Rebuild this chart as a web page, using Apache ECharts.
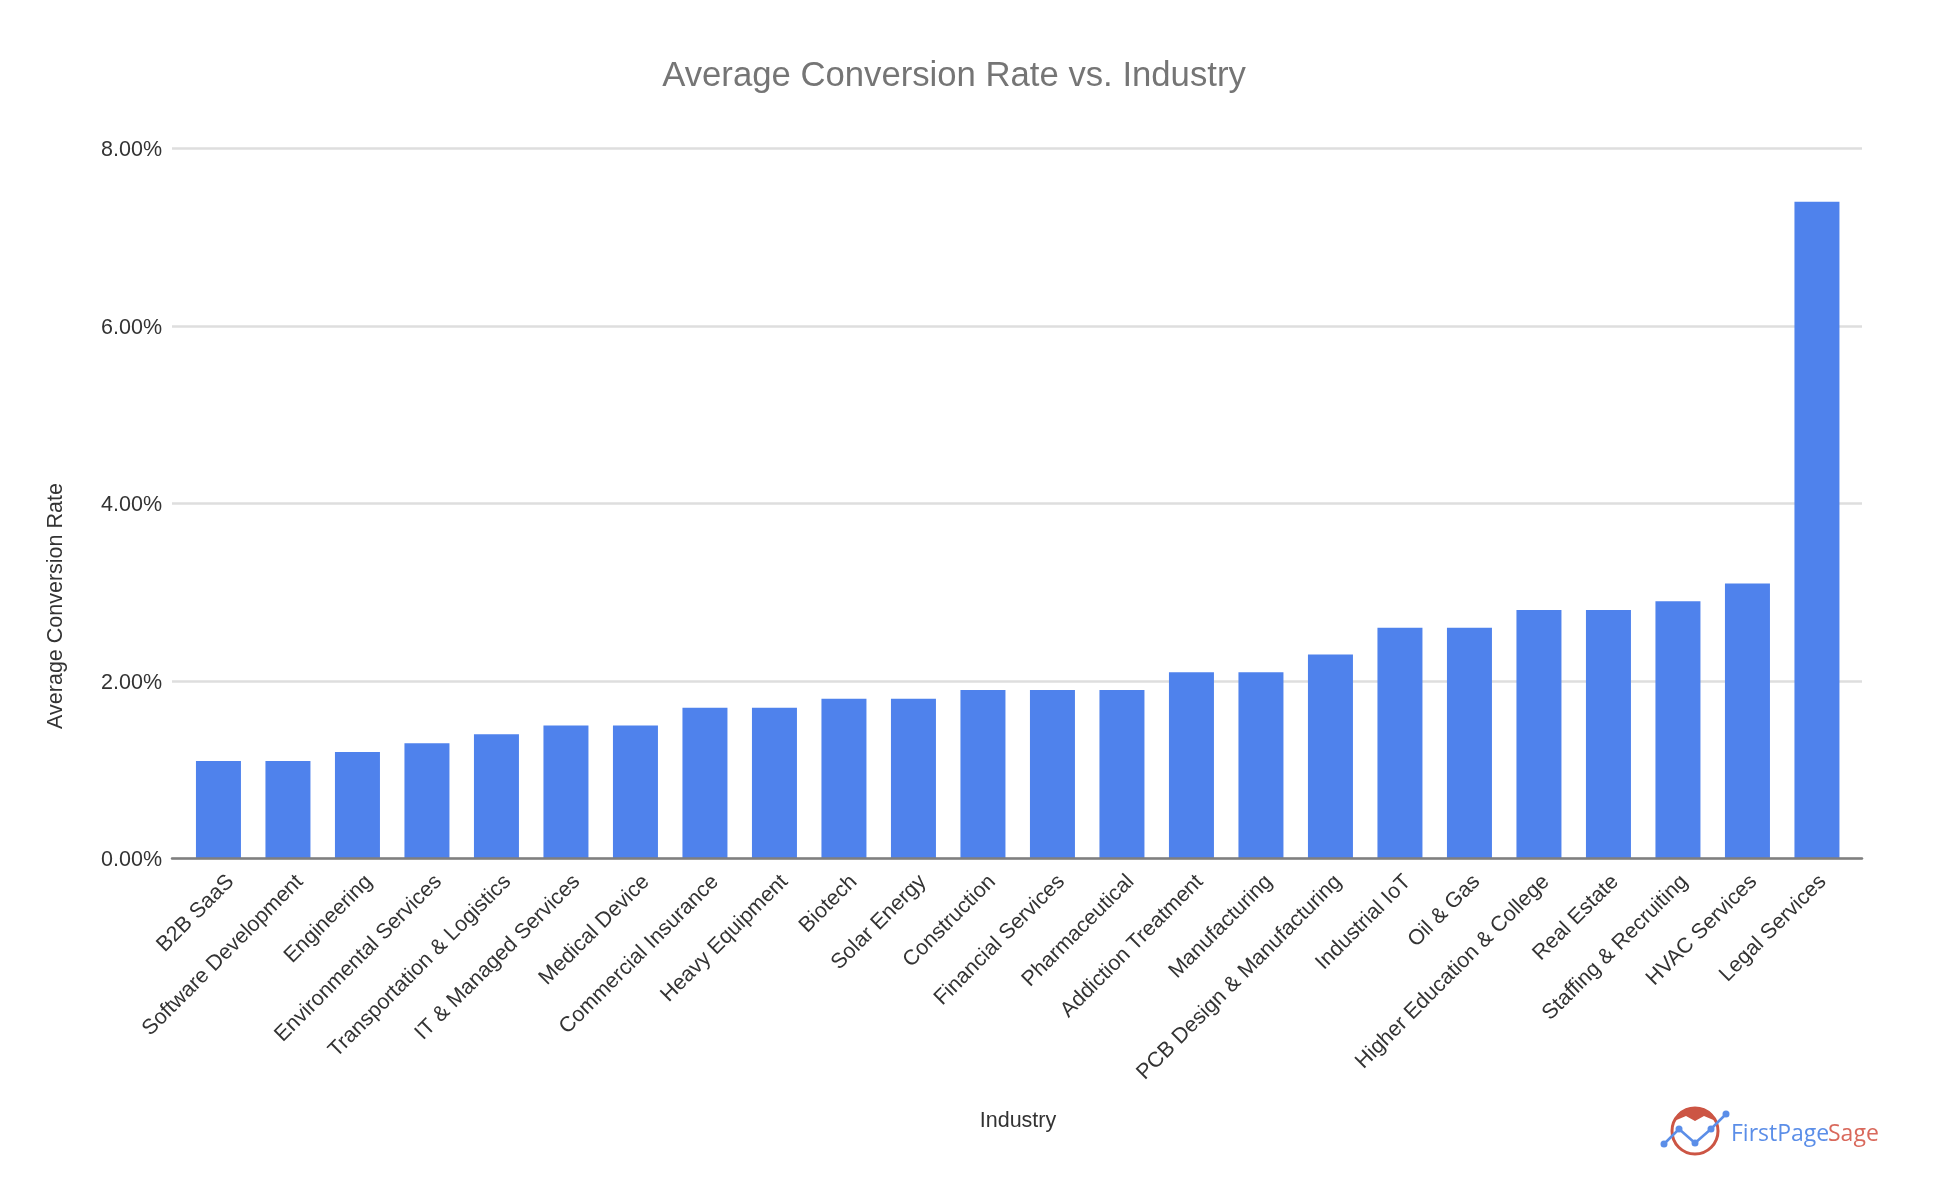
<!DOCTYPE html>
<html><head><meta charset="utf-8">
<style>html,body{margin:0;padding:0;background:#fff}#c{width:1956px;height:1198px;filter:blur(0.5px)}</style>
<script src="https://cdn.jsdelivr.net/npm/echarts@6/dist/echarts.min.js"></script>
</head><body><div id="c"></div>
<script>
const categories = ["B2B SaaS","Software Development","Engineering","Environmental Services","Transportation & Logistics","IT & Managed Services","Medical Device","Commercial Insurance","Heavy Equipment","Biotech","Solar Energy","Construction","Financial Services","Pharmaceutical","Addiction Treatment","Manufacturing","PCB Design & Manufacturing","Industrial IoT","Oil & Gas","Higher Education & College","Real Estate","Staffing & Recruiting","HVAC Services","Legal Services"];
const conversionRate = [1.1,1.1,1.2,1.3,1.4,1.5,1.5,1.7,1.7,1.8,1.8,1.9,1.9,1.9,2.1,2.1,2.3,2.6,2.6,2.8,2.8,2.9,3.1,7.4];
const yTicks = [0,2,4,6,8];
const font = '"Liberation Sans", Arial, sans-serif';
const chart = echarts.init(document.getElementById('c'), null, {renderer:'canvas'});
const txt = '#333333';
const capPts = [[18,18.5],[23,11],[31,6],[40,4],[49,6],[57,11],[62,18.5],[49,13],[40,18],[31,13]];
chart.setOption({
  animation:false,
  backgroundColor:'#ffffff',
  title:[
    {text:'Average Conversion Rate vs. Industry',left:949,top:71.5,textAlign:'center',textVerticalAlign:'middle',
     textStyle:{fontFamily:font,fontSize:34.7,fontWeight:'normal',color:'#757575'}},
    {text:'Industry',left:1013,top:1116,textAlign:'center',textVerticalAlign:'middle',
     textStyle:{fontFamily:font,fontSize:21.5,fontWeight:'normal',color:txt}}
  ],
  grid:[
    {left:172,width:1690,top:148.5,height:710,outerBoundsMode:'none'},
    {left:183.7,width:1668,top:148.5,height:710,outerBoundsMode:'none'},
    {left:184,width:1661.5,top:148.5,height:710,outerBoundsMode:'none'}
  ],
  xAxis:[
    {type:'category',gridIndex:0,data:[''],axisTick:{show:false},axisLabel:{show:false},
     axisLine:{lineStyle:{color:'#7f7f7f',width:2.5}},z:5},
    {type:'category',gridIndex:1,data:categories,axisTick:{show:false},axisLine:{show:false},axisLabel:{show:false}},
    {type:'category',gridIndex:2,data:categories,axisTick:{show:false},axisLine:{show:false},
     axisLabel:{interval:0,rotate:45,margin:8,lineHeight:34,verticalAlign:'top',align:'right',
       fontFamily:font,fontSize:21.5,color:txt}}
  ],
  yAxis:[
    {type:'value',gridIndex:0,min:0,max:8,interval:2,
     axisLabel:{margin:10,verticalAlign:'top',lineHeight:4,fontFamily:font,fontSize:21.5,color:txt,
       formatter:v=>yTicks.includes(v)?v.toFixed(2)+'%':''},
     axisLine:{show:false},axisTick:{show:false},
     splitLine:{lineStyle:{color:'#dedede',width:2.5}}},
    {type:'value',gridIndex:1,min:0,max:8,interval:2,show:false},
    {type:'value',gridIndex:2,min:0,max:8,interval:2,show:false}
  ],
  series:[{type:'bar',xAxisIndex:1,yAxisIndex:1,data:conversionRate,barWidth:45,
    itemStyle:{color:'#4f82ec'},z:3}],
  graphic:[
   {type:'text',x:56,y:606,rotation:Math.PI/2,style:{text:'Average Conversion Rate',align:'center',verticalAlign:'middle',
     fontFamily:font,fontSize:21.5,fill:txt}},
   {type:'group',x:1655,y:1103,children:[
    {type:'circle',shape:{cx:40,cy:28,r:23},style:{fill:'none',stroke:'#cc5544',lineWidth:3}},
    {type:'polygon',shape:{points:capPts},style:{fill:'#cc5544'}},
    {type:'polyline',shape:{points:[[9,41],[24,26],[40,40],[56,26],[71,11]]},style:{fill:'none',stroke:'#5b8ee8',lineWidth:2.5}},
    {type:'circle',shape:{cx:9,cy:41,r:3.5},style:{fill:'#5b8ee8'}},
    {type:'circle',shape:{cx:24,cy:26,r:3.5},style:{fill:'#5b8ee8'}},
    {type:'circle',shape:{cx:40,cy:40,r:3.5},style:{fill:'#5b8ee8'}},
    {type:'circle',shape:{cx:56,cy:26,r:3.5},style:{fill:'#5b8ee8'}},
    {type:'circle',shape:{cx:71,cy:11,r:3.5},style:{fill:'#5b8ee8'}},
    {type:'text',style:{x:76,y:31,text:'FirstPage',verticalAlign:'middle',fontFamily:'"Open Sans",sans-serif',fontSize:23,fill:'#5b8ee8'}},
    {type:'text',style:{x:173,y:31,text:'Sage',verticalAlign:'middle',fontFamily:'"Open Sans",sans-serif',fontSize:23,fill:'#d9695c'}}
   ]}
  ]
});
</script></body></html>
